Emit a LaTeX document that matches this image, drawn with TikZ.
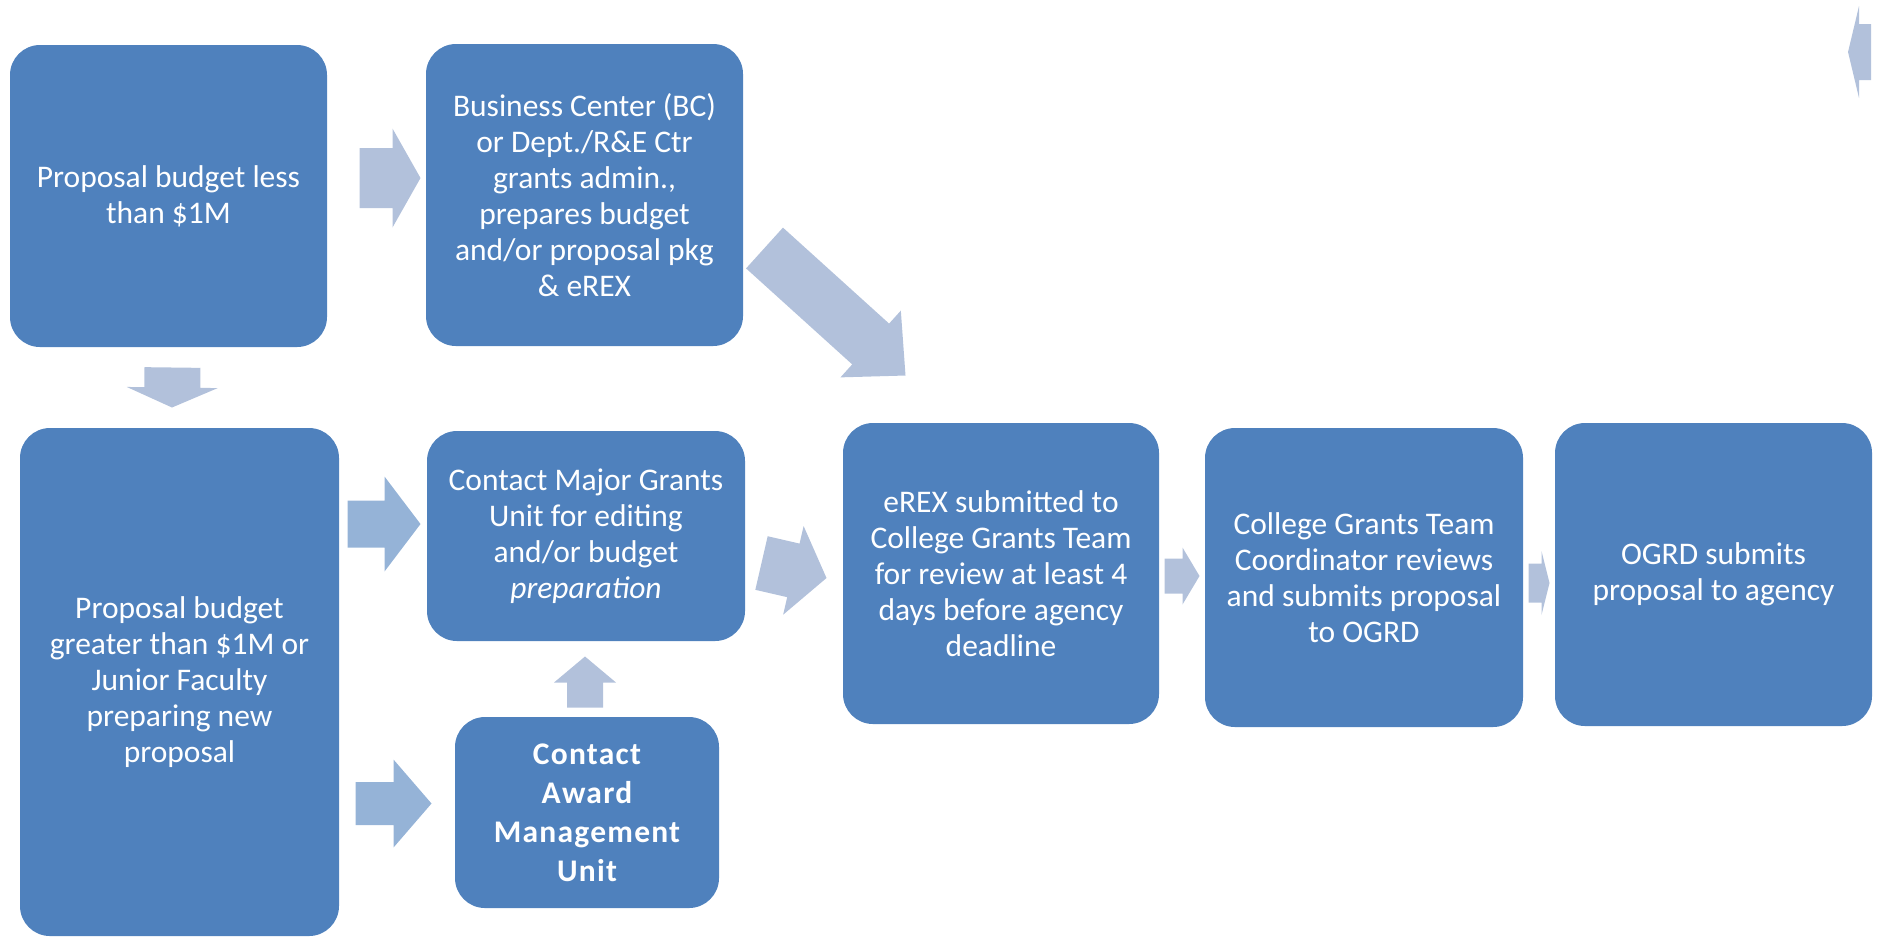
\documentclass[tikz,border=0pt]{standalone}
\usepackage{fontspec}
\setmainfont{Carlito}
\newfontfamily\spacedfont[LetterSpace=4.0]{Carlito}
\usepackage{tikz}
\usetikzlibrary{calc,positioning}

\definecolor{boxblue}{HTML}{4F81BD}
\definecolor{lightarrow}{HTML}{B2C1DB}
\definecolor{midarrow}{HTML}{95B3D7}

\begin{document}
\begin{tikzpicture}[x=0.4pt,y=-0.4pt]

  % Parameters
  \def\pxu{0.4pt}
  \def\pxh{0.2pt}

  % Styles
  \tikzstyle{blk}=[fill=boxblue,rounded corners=12pt,text=white,align=center,inner sep=0pt,font=\fontsize{12.6}{14.4}\selectfont]
  \tikzstyle{spaced}=[font=\spacedfont\bfseries\fontsize{12.6}{15.6}\selectfont]

  % \blk{<style>}{<id>}{<width>}{<height>}{<label>}
  \newcommand{\blk}[5]{node[blk,#1,minimum width=#3*\pxu,minimum height=#4*\pxu] (#2) {#5}}

  % \barrow[<colour>]{<tail>}{<tip>}{<body>}{<head>}{<head length>}
  \newcommand{\barrow}[6][lightarrow]{%
    \coordinate (bt) at #2;
    \coordinate (bp) at #3;
    \coordinate (bq) at ($(bp)!#6*\pxu!(bt)$);
    \fill[#1] ($(bt)!#4*\pxh!90:(bp)$) -- ($(bq)!#4*\pxh!90:(bp)$) -- ($(bq)!#5*\pxh!90:(bp)$) -- (bp)
      -- ($(bq)!#5*\pxh!-90:(bp)$) -- ($(bq)!#4*\pxh!-90:(bp)$) -- ($(bt)!#4*\pxh!-90:(bp)$) -- cycle;
  }

  % ===========================================================================

  \useasboundingbox (0,0) rectangle (1877,936);

  % Draw boxes
  \path (168.5,196) \blk{}{prop-small}{317}{302}{Proposal budget less\\than \$1M};
  \path (584.5,195) \blk{}{biz-ctr}{317}{302}{Business Center (BC)\\or Dept./R\&E Ctr\\grants admin.,\\prepares budget\\and/or proposal pkg\\\& eREX};
  \path (179.5,682) \blk{}{prop-large}{319}{508}{Proposal budget\\greater than \$1M or\\Junior Faculty\\preparing new\\proposal};
  \path (586,536) \blk{}{major-grants}{318}{210}{Contact Major Grants\\Unit for editing\\and/or budget\\\textit{preparation}};
  \path (587,812.5) \blk{spaced}{award-mgmt}{264}{191}{Contact\\Award\\Management\\Unit};
  \path (1001,573.5) \blk{}{erex-sub}{316}{301}{eREX submitted to\\College Grants Team\\for review at least 4\\days before agency\\deadline};
  \path (1364,577.5) \blk{}{cgt-review}{318}{299}{College Grants Team\\Coordinator reviews\\and submits proposal\\to OGRD};
  \path (1713.5,574.5) \blk{}{ogrd-sub}{317}{303}{OGRD submits\\proposal to agency};

  % Draw arrows
  \barrow{($(prop-small.east)+(32,-18)$)}{($(biz-ctr.west)+(-5,-17)$)}{60}{99}{28}
  \barrow{($(prop-small.south)+(4,20)$)}{($(prop-large.north)+(-7.5,-20)$)}{56}{91}{20}
  \barrow{($(biz-ctr.east)+(21,53)$)}{($(erex-sub.north west)+(63,-47)$)}{55}{90}{47}
  \barrow[midarrow]{($(prop-large.east |- major-grants.west)+(8,-12)$)}{($(major-grants.west)+(-6,-12)$)}{47}{95}{36}
  \barrow[midarrow]{($(prop-large.east |- award-mgmt.west)+(16,-9)$)}{($(award-mgmt.west)+(-23,-9)$)}{43}{88}{38}
  \barrow{($(award-mgmt.north)+(-2,-9)$)}{($(major-grants.south)+(-1,15)$)}{36}{62}{26}
  \barrow{($(major-grants.east)+(16,27)$)}{($(erex-sub.west)+(-16,4.5)$)}{55}{91}{34}
  \barrow{($(erex-sub.east)+(5,2.5)$)}{($(cgt-review.west)+(-5,-1.5)$)}{35}{57}{17}
  \barrow{($(cgt-review.east)+(5,5.5)$)}{($(ogrd-sub.west)+(-5,8.5)$)}{39}{64}{8}

  % Stray arrow at the top right
  \coordinate (stray-tail) at (1871,52);
  \coordinate (stray-tip) at (1848,52);
  \barrow{(stray-tail)}{(stray-tip)}{56}{92}{11}

\end{tikzpicture}
\end{document}
